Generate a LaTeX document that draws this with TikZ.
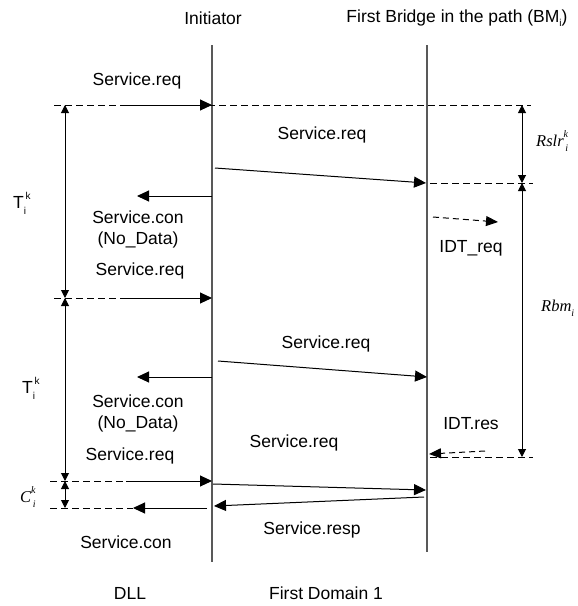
\documentclass[tikz,border=0pt]{standalone}
\usepackage{fontspec}
\setmainfont{Liberation Sans}
\newfontfamily\timesf{Liberation Serif}
\usetikzlibrary{arrows.meta}
\newcommand\smallidx[1]{{\fontsize{10}{10}\selectfont #1}}
\newcommand\supsubs[2]{\rlap{\raisebox{0.55em}{\smallidx{#1}}}\raisebox{-0.3em}{\smallidx{\,#2}}}
\newcommand\subsups[2]{\rlap{\raisebox{-0.3em}{\smallidx{#2}}}\raisebox{0.55em}{\smallidx{\,#1}}}
\tikzset{
  lbl/.style={font=\fontsize{17.5}{21}\selectfont, inner sep=0pt, align=center},
  mlbl/.style={font=\fontsize{16.5}{20}\selectfont\timesf\itshape, inner sep=0pt, anchor=west},
  life/.style={draw=black!65, line width=1.3pt},
  msg/.style={line width=1pt, -{Triangle[length=12pt,width=11pt]}},
  dmsg/.style={line width=1pt, dash pattern=on 6pt off 4pt, -{Triangle[length=12pt,width=10pt]}},
  guide/.style={line width=0.9pt, dash pattern=on 7pt off 4pt},
  spanarr/.style={line width=1pt, {Triangle[length=8pt,width=8pt]}-{Triangle[length=8pt,width=8pt]}},
}
\begin{document}
\begin{tikzpicture}[x=1pt,y=-1pt]
\useasboundingbox (0,0) rectangle (578,606);
% headers
\node[lbl] (hinit) at (213,18) {Initiator};
\node[lbl] (hbridge) at (457,18) {First Bridge in the path (BM\raisebox{-0.25em}{\smallidx{i}})};
% lifelines
\coordinate (a0) at (212,45); \coordinate (a1) at (212,562);
\coordinate (b0) at (427,45); \coordinate (b1) at (427,552);
\draw[life] (a0) -- (a1);
\draw[life] (b0) -- (b1);
% guide lines
\coordinate (g1l) at (54,105); \coordinate (g1r) at (531,105);
\coordinate (g2l) at (430,183); \coordinate (g2r) at (533,183);
\coordinate (g3l) at (54,298); \coordinate (g3r) at (126,298);
\coordinate (g4l) at (430,457); \coordinate (g4r) at (533,457);
\coordinate (g5l) at (50,481); \coordinate (g5r) at (126,481);
\coordinate (g6l) at (50,508); \coordinate (g6r) at (133,508);
\draw[guide] (g1l) -- (g1r);
\draw[guide] (g2l) -- (g2r);
\draw[guide] (g3l) -- (g3r);
\draw[guide] (g4l) -- (g4r);
\draw[guide] (g5l) -- (g5r);
\draw[guide] (g6l) -- (g6r);
% spans left
\coordinate (l1) at (65,105); \coordinate (l2) at (65,298);
\coordinate (l3) at (65,481); \coordinate (l4) at (65,508);
\draw[spanarr] (l1) -- (l2);
\draw[spanarr] (l2) -- (l3);
\draw[spanarr] (l3) -- (l4);
% spans right
\coordinate (r1) at (522,105); \coordinate (r2) at (522,183); \coordinate (r3) at (522,457);
\draw[spanarr] (r1) -- (r2);
\draw[spanarr] (r2) -- (r3);
% span labels
\node[lbl, anchor=west] (t1) at (13,203) {T\subsups{k}{i}};
\node[lbl, anchor=west] (t2) at (22,388) {T\subsups{k}{i}};
\node[mlbl] (rslr) at (536,141) {Rslr\supsubs{k}{i}};
\node[mlbl] (rbm) at (541,308) {Rbm\raisebox{-0.3em}{\smallidx{i}}};
\node[mlbl] (cki) at (20,497) {C\supsubs{k}{i}};
% messages
\coordinate (m1s) at (126,105); \coordinate (m1e) at (212,105);
\draw[msg] (m1s) -- (m1e);
\node[lbl] (s1) at (137,81) {Service.req};
\coordinate (m2s) at (215,168); \coordinate (m2e) at (426,183);
\draw[msg] (m2s) -- (m2e);
\node[lbl] (s2) at (322,135) {Service.req};
\coordinate (m3s) at (212,196); \coordinate (m3e) at (137,196);
\draw[msg] (m3s) -- (m3e);
\node[lbl] (s3) at (138,229) {Service.con\\(No\_Data)};
\coordinate (m4s) at (433,217); \coordinate (m4e) at (498,222);
\draw[dmsg] (m4s) -- (m4e);
\node[lbl] (s4) at (471,248) {IDT\_req};
\coordinate (m5s) at (126,298); \coordinate (m5e) at (212,298);
\draw[msg] (m5s) -- (m5e);
\node[lbl] (s5) at (140,271) {Service.req};
\coordinate (m6s) at (218,361); \coordinate (m6e) at (427,377);
\draw[msg] (m6s) -- (m6e);
\node[lbl] (s6) at (326,344) {Service.req};
\coordinate (m7s) at (212,377); \coordinate (m7e) at (137,377);
\draw[msg] (m7s) -- (m7e);
\node[lbl] (s7) at (138,413) {Service.con\\(No\_Data)};
\node[lbl] (s8) at (471,424) {IDT.res};
\coordinate (m8s) at (485,451); \coordinate (m8e) at (429,454);
\draw[dmsg] (m8s) -- (m8e);
\node[lbl] (s9) at (294,443) {Service.req};
\node[lbl] (s10) at (130,456) {Service.req};
\coordinate (m9s) at (126,481); \coordinate (m9e) at (212,481);
\draw[msg] (m9s) -- (m9e);
\coordinate (m10s) at (213,484); \coordinate (m10e) at (426,490);
\draw[msg] (m10s) -- (m10e);
\coordinate (m11s) at (424,497); \coordinate (m11e) at (214,506);
\draw[msg] (m11s) -- (m11e);
\coordinate (m12s) at (207,508); \coordinate (m12e) at (133,508);
\draw[msg] (m12s) -- (m12e);
\node[lbl] (s11) at (312,530) {Service.resp};
\node[lbl] (s12) at (126,542) {Service.con};
% footers
\node[lbl] (fdll) at (130,593) {DLL};
\node[lbl] (fdom) at (326,593) {First Domain 1};
\end{tikzpicture}
\end{document}
